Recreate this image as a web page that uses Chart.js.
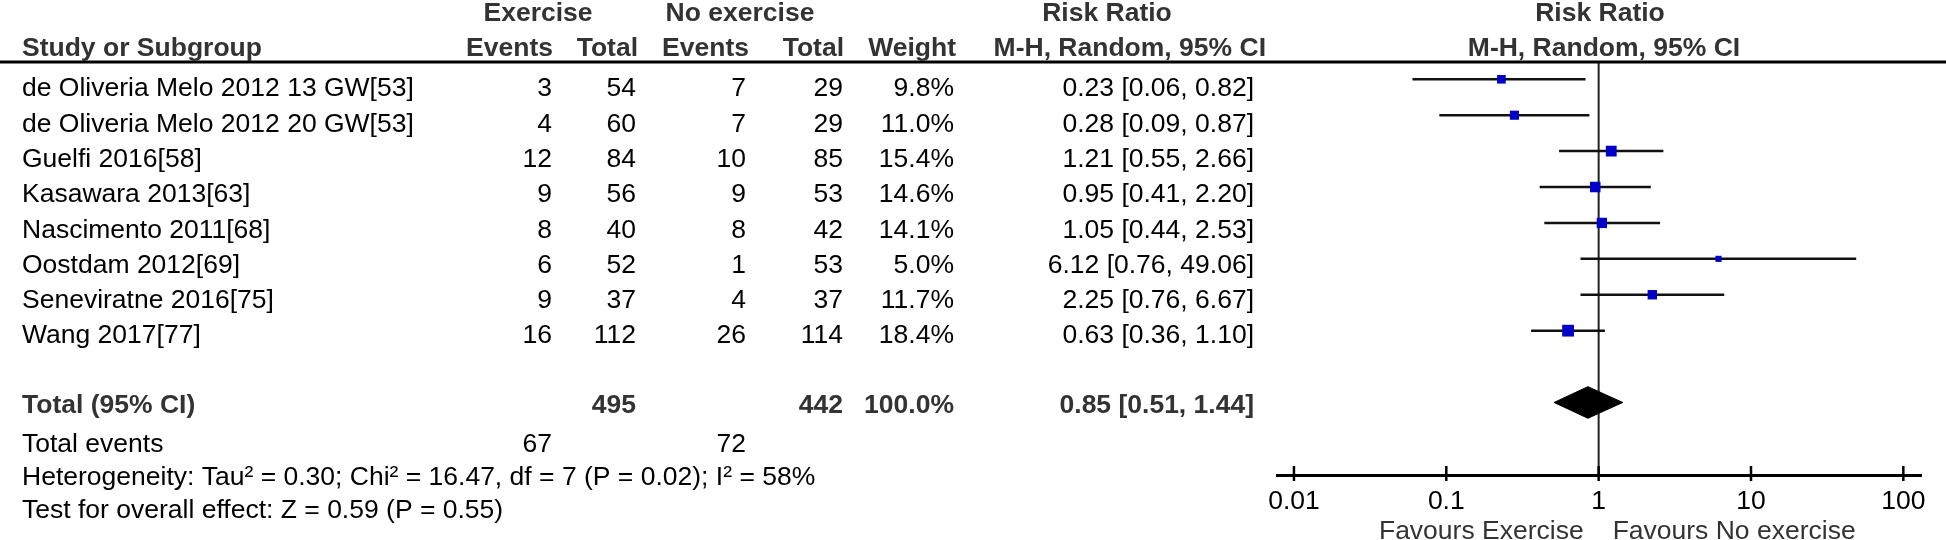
<!DOCTYPE html>
<html>
<head>
<meta charset="utf-8">
<script src="https://cdn.jsdelivr.net/npm/chart.js@4.4.0/dist/chart.umd.min.js"></script>
<style>
  html, body { margin: 0; padding: 0; background: #fff; }
  canvas { display: block; }
</style>
</head>
<body>
<canvas id="forest" width="1946" height="540"></canvas>
<script>
// study rows
const studies = ['de Oliveria Melo 2012 13 GW[53]', 'de Oliveria Melo 2012 20 GW[53]', 'Guelfi 2016[58]',
  'Kasawara 2013[63]', 'Nascimento 2011[68]', 'Oostdam 2012[69]', 'Seneviratne 2016[75]', 'Wang 2017[77]'];
const exEvents = [3, 4, 12, 9, 8, 6, 9, 16];
const exTotal = [54, 60, 84, 56, 40, 52, 37, 112];
const noEvents = [7, 7, 10, 9, 8, 1, 4, 26];
const noTotal = [29, 29, 85, 53, 42, 53, 37, 114];
const weights = [9.8, 11.0, 15.4, 14.6, 14.1, 5.0, 11.7, 18.4];
const rr = [0.23, 0.28, 1.21, 0.95, 1.05, 6.12, 2.25, 0.63];
const rrLow = [0.06, 0.09, 0.55, 0.41, 0.44, 0.76, 0.76, 0.36];
const rrHigh = [0.82, 0.87, 2.66, 2.20, 2.53, 49.06, 6.67, 1.10];

// pooled result
const totalN = [495, 442];
const totalEvents = [67, 72];
const totalWeight = 100.0;
const pooled = [0.85, 0.51, 1.44];
const heterogeneity = 'Heterogeneity: Tau\u00b2 = 0.30; Chi\u00b2 = 16.47, df = 7 (P = 0.02); I\u00b2 = 58%';
const overallTest = 'Test for overall effect: Z = 0.59 (P = 0.55)';

// axis
const axisTicks = [0.01, 0.1, 1, 10, 100];
const favours = ['Favours Exercise', 'Favours No exercise'];

const totalRow = 10;
const yMin = 0.518, yMax = 12.02;
const FONT = "'Liberation Sans', Arial, sans-serif";
const FS = 26.5;
const BLUE = '#0000c8';

const fmt2 = v => v.toFixed(2);
const ciText = (m, l, h) => fmt2(m) + ' [' + fmt2(l) + ', ' + fmt2(h) + ']';

// datasets
const datasets = [];
datasets.push({
  label: 'studies',
  data: rr.map((v, i) => ({ x: v, y: i + 1 })),
  pointStyle: 'rect',
  pointRadius: weights.map(w => 2.75 * Math.sqrt(w) / Math.SQRT2),
  pointBackgroundColor: BLUE,
  pointBorderWidth: 0,
  order: 0
});
datasets.push({
  label: 'pooled',
  type: 'line',
  showLine: true,
  data: [
    { x: pooled[1], y: totalRow },
    { x: pooled[0], y: totalRow - 0.44 },
    { x: pooled[2], y: totalRow },
    { x: pooled[0], y: totalRow + 0.44 },
    { x: pooled[1], y: totalRow }
  ],
  borderColor: '#000',
  backgroundColor: '#000',
  borderWidth: 1,
  fill: 'shape',
  tension: 0,
  pointRadius: 0,
  order: 1
});
rr.forEach((v, i) => {
  datasets.push({
    label: studies[i],
    type: 'line',
    showLine: true,
    data: [{ x: rrLow[i], y: i + 1 }, { x: rrHigh[i], y: i + 1 }],
    borderColor: '#111',
    borderWidth: 2.5,
    pointRadius: 0,
    order: 2
  });
});
datasets.push({
  label: 'no effect',
  type: 'line',
  showLine: true,
  data: [{ x: 1, y: yMin }, { x: 1, y: yMax }],
  borderColor: '#222',
  borderWidth: 2,
  pointRadius: 0,
  clip: false,
  order: 3
});

function txt(ctx, s, x, y, align, bold, color) {
  ctx.font = (bold ? 'bold ' : '') + FS + 'px ' + FONT;
  ctx.textAlign = align;
  ctx.textBaseline = 'alphabetic';
  ctx.fillStyle = color || (bold ? '#333' : '#000');
  ctx.fillText(s, x, y);
}

const tablePlugin = {
  id: 'table',
  afterDraw(chart) {
    const ctx = chart.ctx;
    const ys = chart.scales.y;
    const xs = chart.scales.x;
    const top = chart.chartArea.top;
    const axisY = chart.chartArea.bottom;
    ctx.save();

    // header rule
    ctx.strokeStyle = '#000';
    ctx.lineWidth = 2.8;
    ctx.beginPath();
    ctx.moveTo(0, top);
    ctx.lineTo(chart.width, top);
    ctx.stroke();

    // tick marks across the axis
    ctx.lineWidth = 2.5;
    axisTicks.forEach(v => {
      const px = xs.getPixelForValue(v);
      ctx.beginPath();
      ctx.moveTo(px, axisY - 9);
      ctx.lineTo(px, axisY + 6);
      ctx.stroke();
    });

    // headers
    txt(ctx, 'Exercise', 538, 21, 'center', true);
    txt(ctx, 'No exercise', 740, 21, 'center', true);
    txt(ctx, 'Risk Ratio', 1107, 21, 'center', true);
    txt(ctx, 'Risk Ratio', 1600, 21, 'center', true);
    txt(ctx, 'Study or Subgroup', 22, 56, 'left', true);
    txt(ctx, 'Events', 553, 56, 'right', true);
    txt(ctx, 'Total', 638, 56, 'right', true);
    txt(ctx, 'Events', 749, 56, 'right', true);
    txt(ctx, 'Total', 844, 56, 'right', true);
    txt(ctx, 'Weight', 956, 56, 'right', true);
    txt(ctx, 'M-H, Random, 95% CI', 1266, 56, 'right', true);
    txt(ctx, 'M-H, Random, 95% CI', 1604, 56, 'center', true);

    // study rows (text pitch is a little tighter than the plot rows)
    studies.forEach((s, i) => {
      const by = ys.getPixelForValue(1) + 17 + i * 35.3;
      txt(ctx, s, 22, by, 'left');
      txt(ctx, String(exEvents[i]), 552, by, 'right');
      txt(ctx, String(exTotal[i]), 636, by, 'right');
      txt(ctx, String(noEvents[i]), 746, by, 'right');
      txt(ctx, String(noTotal[i]), 843, by, 'right');
      txt(ctx, weights[i].toFixed(1) + '%', 954, by, 'right');
      txt(ctx, ciText(rr[i], rrLow[i], rrHigh[i]), 1254, by, 'right');
    });

    // total rows
    const ty = ys.getPixelForValue(totalRow) + 10.5;
    txt(ctx, 'Total (95% CI)', 22, ty, 'left', true);
    txt(ctx, String(totalN[0]), 636, ty, 'right', true);
    txt(ctx, String(totalN[1]), 843, ty, 'right', true);
    txt(ctx, totalWeight.toFixed(1) + '%', 954, ty, 'right', true);
    txt(ctx, ciText(pooled[0], pooled[1], pooled[2]), 1254, ty, 'right', true);
    txt(ctx, 'Total events', 22, ty + 39, 'left');
    txt(ctx, String(totalEvents[0]), 552, ty + 39, 'right');
    txt(ctx, String(totalEvents[1]), 746, ty + 39, 'right');
    txt(ctx, heterogeneity, 22, ty + 72, 'left');
    txt(ctx, overallTest, 22, ty + 105, 'left');

    // favours labels
    const one = xs.getPixelForValue(1);
    txt(ctx, favours[0], one - 15, 539, 'right', false, '#333');
    txt(ctx, favours[1], one + 14, 539, 'left', false, '#333');
    ctx.restore();
  }
};

new Chart(document.getElementById('forest'), {
  type: 'scatter',
  data: { datasets: datasets },
  options: {
    responsive: false,
    animation: false,
    events: [],
    layout: { padding: { left: 1277, right: 25, top: 62, bottom: 0 } },
    plugins: { legend: { display: false }, tooltip: { enabled: false } },
    scales: {
      x: {
        type: 'logarithmic',
        min: 0.00774,
        max: 130.6,
        bounds: 'data',
        grid: { display: false },
        border: { display: true, color: '#000', width: 3 },
        afterBuildTicks: s => { s.ticks = axisTicks.map(v => ({ value: v })); },
        afterFit: s => { s.height = 65; },
        ticks: {
          autoSkip: false,
          maxRotation: 0,
          padding: 3,
          color: '#000',
          font: { family: FONT, size: FS },
          callback: v => String(v)
        }
      },
      y: {
        type: 'linear',
        min: yMin,
        max: yMax,
        reverse: true,
        display: false
      }
    }
  },
  plugins: [tablePlugin]
});
</script>
</body>
</html>
